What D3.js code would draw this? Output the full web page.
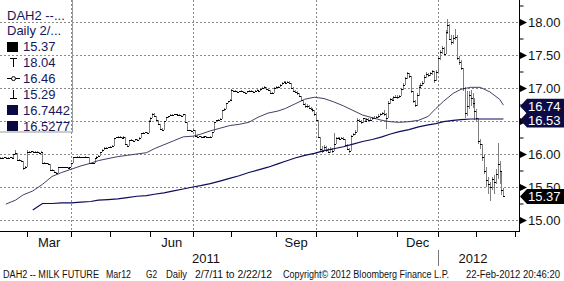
<!DOCTYPE html>
<html lang="en">
<head>
<meta charset="utf-8">
<script src="https://d3js.org/d3.v7.min.js"></script>
<style>
body { margin: 0; background: #fff; }
svg { display: block; font-family: "Liberation Sans", Arial, sans-serif; }
</style>
</head>
<body>
<script>

// one row per week, Mon..Fri, null = no session (exchange holiday)
var firstMonday = new Date(2011, 1, 7);

var closes = [
  [15.93,15.94,15.94,15.95,15.94],[15.94,15.95,15.94,16.00,16.02],[null,15.91,15.91,15.90,15.79],
  [15.80,16.03,16.03,16.04,16.03],[16.03,16.03,16.02,16.03,15.86],[15.86,15.86,15.85,15.76,15.76],
  [15.72,15.71,15.80,15.80,15.80],[15.80,15.80,15.79,15.80,15.87],[15.96,15.95,15.96,15.96,15.95],
  [15.95,15.96,15.95,15.87,15.86],[15.86,15.94,15.96,15.97,null],[16.03,16.06,16.09,16.09,16.10],
  [16.11,16.12,16.24,16.25,16.26],[16.25,16.24,16.26,16.15,16.12],[16.21,16.21,16.20,16.22,16.21],
  [16.24,16.32,16.32,16.33,16.32],[null,16.50,16.55,16.61,16.57],[16.52,16.45,16.38,16.36,16.50],
  [16.56,16.57,16.59,16.59,16.60],[16.60,16.59,16.59,16.58,16.60],[16.48,16.37,16.36,16.35,16.37],
  [null,16.28,16.26,16.27,16.25],[16.26,16.27,16.26,16.25,16.26],[16.33,16.48,16.51,16.52,16.53],
  [16.66,16.68,16.77,16.80,16.82],[16.97,16.95,16.96,16.94,16.95],[16.96,16.94,16.92,16.95,16.96],
  [16.95,16.94,16.96,16.97,16.95],[16.99,17.00,17.02,16.98,16.97],[16.92,16.93,17.00,17.02,17.02],
  [null,17.05,17.08,17.09,17.08],[17.09,17.08,17.00,16.96,16.94],[16.93,16.88,16.82,16.76,16.72],
  [16.73,16.70,16.68,16.67,16.60],[16.52,16.25,16.08,16.05,16.10],[16.06,16.03,16.08,16.04,16.15],
  [16.24,16.24,16.23,16.24,16.23],[16.14,16.08,16.05,16.28,16.30],[16.34,16.52,16.50,16.48,16.54],
  [16.50,16.53,16.51,16.52,16.54],[16.55,16.56,16.58,16.60,16.62],[16.60,16.55,16.78,null,16.83],
  [16.82,16.86,16.87,16.86,16.88],[16.98,17.05,17.15,17.22,17.18],[16.95,16.80,16.74,16.90,17.02],
  [17.05,17.08,17.17,17.21,17.20],[null,17.22,17.26,17.12,17.25],[null,17.45,17.55,17.60,17.52],
  [17.85,17.95,17.75,17.70,17.76],[null,17.78,17.45,17.40,17.30],[17.00,16.62,16.72,16.90,16.85],
  [16.78,16.65,16.55,16.20,16.15],[15.95,15.75,15.60,15.55,15.50],[15.62,15.58,15.70,15.85,15.75],
  [null,15.45,15.37]
];

var highs = [
  [15.95,15.95,15.95,15.96,15.95],[15.95,15.96,15.95,16.00,16.06],[null,16.02,15.92,15.91,15.90],
  [15.82,16.06,16.04,16.05,16.04],[16.04,16.04,16.03,16.04,16.03],[15.88,15.87,15.86,15.85,15.77],
  [15.76,15.72,15.80,15.81,15.81],[15.81,15.81,15.80,15.81,15.87],[15.96,15.96,15.97,15.97,15.96],
  [15.96,15.97,15.96,15.95,15.87],[15.87,15.94,15.97,15.98,null],[16.03,16.07,16.10,16.10,16.11],
  [16.12,16.13,16.24,16.26,16.27],[16.27,16.26,16.27,16.26,16.15],[16.21,16.22,16.21,16.23,16.22],
  [16.25,16.32,16.33,16.34,16.33],[null,16.51,16.56,16.62,16.62],[16.57,16.52,16.45,16.39,16.50],
  [16.56,16.58,16.60,16.60,16.61],[16.61,16.61,16.60,16.59,16.61],[16.60,16.48,16.37,16.36,16.38],
  [null,16.37,16.29,16.28,16.28],[16.27,16.28,16.27,16.26,16.27],[16.34,16.49,16.52,16.53,16.54],
  [16.67,16.69,16.78,16.81,16.83],[16.98,16.97,16.97,16.96,16.96],[16.97,16.96,16.94,16.96,16.97],
  [16.97,16.95,16.97,16.98,16.97],[17.00,17.01,17.03,17.02,16.98],[16.97,16.94,17.01,17.03,17.03],
  [null,17.06,17.09,17.11,17.10],[17.10,17.10,17.08,17.01,16.97],[16.95,16.93,16.88,16.82,16.77],
  [16.75,16.74,16.71,16.69,16.67],[16.60,16.52,16.25,16.12,16.14],[16.12,16.09,16.10,16.09,16.32],
  [16.26,16.26,16.25,16.25,16.25],[16.23,16.15,16.09,16.29,16.32],[16.36,16.54,16.53,16.51,16.55],
  [16.55,16.55,16.54,16.54,16.56],[16.57,16.58,16.60,16.62,16.64],[16.66,16.62,16.80,null,16.85],
  [16.85,16.88,16.90,16.89,16.90],[17.00,17.08,17.17,17.25,17.23],[17.18,16.96,16.82,16.92,17.05],
  [17.07,17.10,17.19,17.24,17.23],[null,17.24,17.28,17.26,17.27],[null,17.48,17.58,17.63,17.62],
  [17.88,18.04,17.97,17.80,17.80],[null,17.90,17.80,17.48,17.42],[17.30,17.02,16.95,16.95,16.97],
  [16.92,16.85,16.68,16.55,16.22],[16.15,15.98,15.80,15.65,15.58],[15.65,15.68,15.78,16.17,15.90],
  [null,15.72,15.48]
];

var lows = [
  [15.92,15.93,15.93,15.94,15.93],[15.93,15.94,15.93,15.94,15.99],[null,15.91,15.90,15.89,15.76],
  [15.78,15.80,16.02,16.02,16.02],[16.02,16.02,16.01,16.02,15.86],[15.85,15.85,15.84,15.76,15.75],
  [15.72,15.70,15.71,15.79,15.79],[15.79,15.79,15.78,15.79,15.80],[15.87,15.94,15.95,15.95,15.94],
  [15.94,15.95,15.94,15.87,15.85],[15.85,15.86,15.94,15.96,null],[15.97,16.03,16.06,16.08,16.09],
  [16.10,16.11,16.12,16.24,16.25],[16.24,16.23,16.24,16.14,16.11],[16.12,16.20,16.19,16.20,16.20],
  [16.21,16.24,16.31,16.32,16.31],[null,16.32,16.49,16.55,16.56],[16.51,16.44,16.37,16.35,16.36],
  [16.50,16.55,16.57,16.58,16.59],[16.59,16.58,16.58,16.57,16.58],[16.47,16.36,16.35,16.34,16.35],
  [null,16.27,16.25,16.25,16.24],[16.24,16.26,16.25,16.24,16.25],[16.26,16.33,16.48,16.50,16.51],
  [16.53,16.65,16.68,16.77,16.80],[16.82,16.94,16.95,16.93,16.94],[16.95,16.93,16.91,16.92,16.95],
  [16.94,16.93,16.94,16.96,16.94],[16.95,16.99,17.00,16.97,16.96],[16.91,16.92,16.93,17.00,17.01],
  [null,17.02,17.05,17.07,17.07],[17.07,17.06,16.99,16.95,16.92],[16.90,16.86,16.80,16.74,16.70],
  [16.70,16.68,16.66,16.64,16.58],[16.50,16.24,16.04,16.02,16.04],[16.03,16.02,16.02,16.02,16.04],
  [16.15,16.22,16.22,16.22,16.21],[16.12,16.06,16.02,16.05,16.27],[16.29,16.34,16.48,16.46,16.47],
  [16.48,16.49,16.49,16.50,16.51],[16.53,16.54,16.55,16.57,16.59],[16.57,16.38,16.55,null,16.76],
  [16.80,16.82,16.85,16.84,16.85],[16.88,16.97,17.04,17.13,17.15],[16.93,16.78,16.71,16.73,16.88],
  [17.00,17.03,17.07,17.15,17.17],[null,17.18,17.20,17.08,17.10],[null,17.25,17.43,17.52,17.48],
  [17.52,17.82,17.72,17.65,17.67],[null,17.72,17.42,17.35,17.27],[16.95,16.55,16.58,16.68,16.72],
  [16.70,16.52,16.48,16.15,16.08],[15.90,15.70,15.50,15.40,15.29],[15.45,15.40,15.55,15.62,15.55],
  [null,15.38,15.35]
];

// moving averages, value at the last session of each week row
var maShort = [15.24,15.30,15.38,15.44,15.54,15.66,15.72,15.77,15.82,15.86,15.90,15.93,15.96,15.98,
  16.00,16.02,16.08,16.14,16.20,16.26,16.27,16.30,16.35,16.39,16.43,16.45,16.48,16.56,16.62,16.65,
  16.69,16.76,16.83,16.86,16.84,16.79,16.73,16.66,16.59,16.55,16.51,16.49,16.48,16.49,16.51,16.57,
  16.69,16.80,16.92,16.98,17.01,17.01,16.94,16.83,16.74];
var maLong = [null,null,null,15.15,15.25,15.25,15.26,15.26,15.27,15.28,15.30,15.31,15.32,15.34,
  15.36,15.37,15.39,15.41,15.44,15.47,15.50,15.52,15.55,15.59,15.63,15.67,15.72,15.76,15.80,15.85,
  15.89,15.94,15.98,16.01,16.05,16.08,16.11,16.15,16.19,16.22,16.26,16.30,16.34,16.37,16.41,16.44,
  16.46,16.49,16.51,16.52,16.53,16.53,16.53,16.53,16.53];

var priceLabels = [15, 15.5, 16, 16.5, 17, 17.5, 18];
var monthLabels = [[2011, 2, "Mar"], [2011, 5, "Jun"], [2011, 8, "Sep"], [2011, 11, "Dec"]];
var yearLabels = [["2011", 206], ["2012", 473]];
var lastValues = [[16.74, "16.74", "#0c0c44"], [16.53, "16.53", "#0c0c44"], [15.37, "15.37", "#000"]];
var legendText = ["DAH2 --...", "Daily 2/...", "15.37", "18.04", "16.46", "15.29", "16.7442", "16.5277"];
var legendIcon = [null, null, "bar", "high", "avg", "low", "ma", "ma"];
var footer = [["DAH2 -- MILK FUTURE", 3, 96], ["Mar12", 106, 25], ["G2", 146, 11], ["Daily", 166, 21],
  ["2/7/11 to 2/22/12", 195, 77], ["Copyright\u00a9 2012 Bloomberg Finance L.P.", 283, 166],
  ["22-Feb-2012 20:46:20", 466, 94]];

var width = 564, height = 281;
var plotR = 519, plotB = 231;

// flatten the weekly rows into sessions
var days = [];
var weekEnd = [];
closes.forEach(function(row, i) {
  row.forEach(function(c, j) {
    if (c == null) return;
    days.push({date: d3.timeDay.offset(firstMonday, 7 * i + j), close: c, high: highs[i][j], low: lows[i][j]});
  });
  weekEnd.push(days.length - 1);
});

// session calendar runs a few days past the last bar so Mar 2012 has a slot
var calendar = days.map(function(d) { return d.date; });
var next = d3.timeDay.offset(calendar[calendar.length - 1], 1);
while (next < new Date(2012, 2, 3)) {
  if (next.getDay() != 0 && next.getDay() != 6) calendar.push(next);
  next = d3.timeDay.offset(next, 1);
}
var bisect = d3.bisector(function(d) { return d; }).left;
function sessionOf(date) { return bisect(calendar, date); }

var x = d3.scaleLinear()
  .domain([sessionOf(new Date(2011, 2, 1)), sessionOf(new Date(2012, 2, 1))])
  .range([27, 515]);
var y = d3.scaleLinear().domain([15, 18]).range([220, 22]);

function px(v) { return Math.round(v) + 0.5; }

var svg = d3.select("body").append("svg")
  .attr("width", width)
  .attr("height", height);

svg.append("rect").attr("width", width).attr("height", height).attr("fill", "#fff");

svg.append("clipPath").attr("id", "plot")
  .append("rect").attr("x", 0).attr("y", 0).attr("width", plotR).attr("height", plotB);

// month starts (first session of each month)
var months = d3.timeMonth.range(new Date(2011, 2, 1), new Date(2012, 2, 2));
var monthIdx = months.map(sessionOf);

// dotted grid
var grid = svg.append("g")
  .attr("stroke", "#8a8a8a")
  .attr("stroke-dasharray", "2,2")
  .attr("shape-rendering", "crispEdges");

grid.selectAll("line.h")
  .data(priceLabels)
  .enter().append("line")
  .attr("class", "h")
  .attr("x1", 0).attr("x2", plotR)
  .attr("y1", function(d) { return px(y(d)); })
  .attr("y2", function(d) { return px(y(d)); });

grid.selectAll("line.v")
  .data(months.filter(function(m) { return m.getMonth() % 3 == 0; }))
  .enter().append("line")
  .attr("class", "v")
  .attr("y1", 0).attr("y2", plotB + 5)
  .attr("x1", function(d) { return px(x(sessionOf(d))); })
  .attr("x2", function(d) { return px(x(sessionOf(d))); });

// bars
var plot = svg.append("g").attr("clip-path", "url(#plot)").attr("shape-rendering", "crispEdges");

plot.selectAll("line.range")
  .data(days)
  .enter().append("line")
  .attr("class", "range")
  .attr("stroke", "#808080")
  .attr("x1", function(d, i) { return px(x(i)); })
  .attr("x2", function(d, i) { return px(x(i)); })
  .attr("y1", function(d) { return Math.round(y(d.high)); })
  .attr("y2", function(d) { return Math.max(Math.round(y(d.low)), Math.round(y(d.high)) + 1); });

plot.selectAll("line.close")
  .data(days)
  .enter().append("line")
  .attr("class", "close")
  .attr("stroke", "#000")
  .attr("x1", function(d, i) { return Math.round(x(i)); })
  .attr("x2", function(d, i) { return Math.round(x(i)) + 2; })
  .attr("y1", function(d) { return px(y(d.close)); })
  .attr("y2", function(d) { return px(y(d.close)); });

// moving averages
function maLine(values) {
  return d3.line()
    .defined(function(d) { return d != null; })
    .x(function(d, i) { return x(weekEnd[i]); })
    .y(function(d) { return y(d); })(values);
}

var lines = svg.append("g").attr("clip-path", "url(#plot)").attr("fill", "none");
lines.append("path").attr("d", maLine(maShort)).attr("stroke", "#2a2a55").attr("stroke-width", 0.9);
lines.append("path").attr("d", maLine(maLong)).attr("stroke", "#0d0d5c").attr("stroke-width", 1.2);

// axes lines
svg.append("line").attr("x1", 0).attr("x2", plotR + 1).attr("y1", plotB + 0.5).attr("y2", plotB + 0.5)
  .attr("stroke", "#000");
svg.append("line").attr("x1", plotR + 0.5).attr("x2", plotR + 0.5).attr("y1", 0).attr("y2", plotB + 1)
  .attr("stroke", "#000");

// bottom ticks
svg.append("g")
  .attr("transform", "translate(0," + (plotB + 0.5) + ")")
  .call(d3.axisBottom(x).tickValues(monthIdx).tickSize(5).tickSizeOuter(0).tickFormat(""))
  .call(function(g) { g.select(".domain").remove(); })
  .call(function(g) { g.selectAll(".tick line").attr("stroke", "#000").attr("shape-rendering", "crispEdges"); });

svg.selectAll("text.month")
  .data(monthLabels)
  .enter().append("text")
  .attr("class", "month")
  .attr("x", function(d) {
    var a = x(sessionOf(new Date(d[0], d[1], 1)));
    var b = x(sessionOf(new Date(d[0], d[1] + 1, 1)));
    return (a + b) / 2;
  })
  .attr("y", 247)
  .attr("text-anchor", "middle")
  .attr("font-size", 13)
  .attr("fill", "#111")
  .text(function(d) { return d[2]; });

svg.selectAll("text.year")
  .data(yearLabels)
  .enter().append("text")
  .attr("class", "year")
  .attr("x", function(d) { return d[1]; })
  .attr("y", 263)
  .attr("text-anchor", "middle")
  .attr("font-size", 13)
  .attr("fill", "#111")
  .text(function(d) { return d[0]; });

var janX = px(x(sessionOf(new Date(2012, 0, 1))));
svg.append("line").attr("x1", janX).attr("x2", janX).attr("y1", 250).attr("y2", 266)
  .attr("stroke", "#777").attr("shape-rendering", "crispEdges");

// right axis: minor ticks every 0.25, arrow + label every 0.5
svg.append("g")
  .attr("transform", "translate(" + (plotR + 0.5) + ",0)")
  .call(d3.axisRight(y).tickValues(d3.range(15.25, 18.5, 0.5)).tickSize(4).tickFormat(""))
  .call(function(g) { g.select(".domain").remove(); })
  .call(function(g) { g.selectAll(".tick line").attr("stroke", "#000"); });

var yLab = svg.append("g");
yLab.selectAll("path")
  .data(priceLabels)
  .enter().append("path")
  .attr("d", function(d) { var c = px(y(d)); return "M" + (plotR + 1) + "," + (c - 3.5) + "L" + (plotR + 8) + "," + c + "L" + (plotR + 1) + "," + (c + 3.5) + "Z"; })
  .attr("fill", "#000");
yLab.selectAll("text")
  .data(priceLabels)
  .enter().append("text")
  .attr("x", plotR + 9)
  .attr("y", function(d) { return y(d) + 5; })
  .attr("font-size", 13)
  .attr("fill", "#141414")
  .text(function(d) { return d3.format(".2f")(d); });

// last value flags
var flags = svg.selectAll("g.flag")
  .data(lastValues)
  .enter().append("g")
  .attr("class", "flag")
  .attr("transform", function(d) { return "translate(0," + (y(d[0]) + 1) + ")"; });
flags.append("path")
  .attr("d", "M" + (plotR + 1) + ",0L" + (plotR + 8) + ",-7.5L564,-7.5L564,7.5L" + (plotR + 8) + ",7.5Z")
  .attr("fill", function(d) { return d[2]; });
flags.append("text")
  .attr("x", plotR + 9)
  .attr("y", 4.5)
  .attr("font-size", 13)
  .attr("fill", "#fff")
  .text(function(d) { return d[1]; });

// legend
var legend = svg.append("g");
legend.append("rect")
  .attr("x", -1.5).attr("y", -1.5).attr("width", 74).attr("height", 133.5)
  .attr("fill", "none").attr("stroke", "#9a9a9a");

var rows = legend.selectAll("g.row")
  .data(legendText)
  .enter().append("g")
  .attr("class", "row")
  .attr("transform", function(d, i) { return "translate(0," + (19.5 + i * 15.9) + ")"; });

rows.append("text")
  .attr("x", function(d, i) { return legendIcon[i] ? 23 : 7; })
  .attr("font-size", 13)
  .attr("fill", "#16165a")
  .text(function(d) { return d; });

rows.each(function(d, i) {
  var g = d3.select(this).attr("shape-rendering", "crispEdges");
  var kind = legendIcon[i];
  if (kind == "bar" || kind == "ma") {
    g.append("rect").attr("x", 7).attr("y", -9.5).attr("width", 11).attr("height", 10)
      .attr("fill", kind == "bar" ? "#000" : "#0a0a40");
  } else if (kind == "high") {
    g.append("path").attr("d", "M10,-8.5H17M13.5,-8.5V0").attr("stroke", "#000").attr("fill", "none");
  } else if (kind == "low") {
    g.append("path").attr("d", "M13.5,-9V-0.5M10,-0.5H17").attr("stroke", "#000").attr("fill", "none");
  } else if (kind == "avg") {
    g.append("path").attr("d", "M7,-4.5H20").attr("stroke", "#000");
    g.append("circle").attr("cx", 13.5).attr("cy", -4.5).attr("r", 2).attr("fill", "#fff").attr("stroke", "#000")
      .attr("shape-rendering", "auto");
  }
});

// footer
svg.selectAll("text.foot")
  .data(footer)
  .enter().append("text")
  .attr("class", "foot")
  .attr("x", function(d) { return d[1]; })
  .attr("y", 278)
  .attr("font-size", 10)
  .attr("fill", "#111")
  .attr("textLength", function(d) { return d[2]; })
  .attr("lengthAdjust", "spacingAndGlyphs")
  .text(function(d) { return d[0]; });

</script>
</body>
</html>
